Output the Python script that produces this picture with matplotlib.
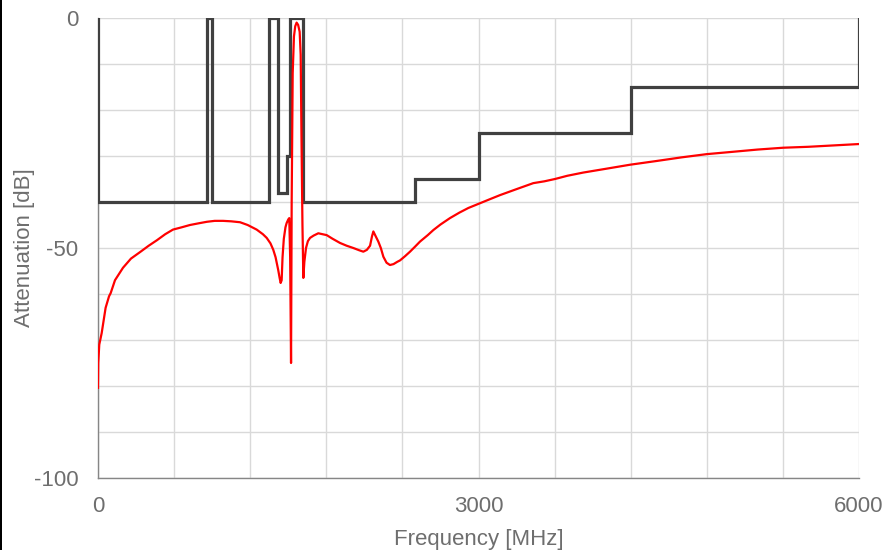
import matplotlib
matplotlib.use("Agg")
import matplotlib.pyplot as plt
from matplotlib.patches import Rectangle

plt.rcParams['font.family'] = ['Liberation Sans', 'DejaVu Sans']
plt.rcParams['axes.unicode_minus'] = False

# Mask (limit line) step definition: segment start/end frequencies and level
mask_freq = [0, 0, 860, 860, 896, 896, 1350, 1350, 1420, 1420, 1487, 1487, 1514, 1514,
             1620, 1620, 2500, 2500, 3000, 3000, 4200, 4200, 6000, 6000]
mask_db = [0, -40, -40, 0, 0, -40, -40, 0, 0, -38, -38, -30, -30, 0,
           0, -40, -40, -35, -35, -25, -25, -15, -15, 0]

# Measured filter response
freq = [0, 2, 10, 29, 60, 87, 100, 134, 197, 260, 331, 400, 465, 530, 591, 660, 725, 800,
        859, 920, 986, 1050, 1120, 1180, 1251, 1300, 1330, 1360, 1382, 1400, 1421, 1432,
        1440, 1448, 1455, 1465, 1478, 1487, 1500, 1508, 1515, 1522, 1527, 1535, 1545, 1555,
        1566, 1578, 1590, 1598, 1604, 1612, 1619, 1627, 1640, 1655, 1672, 1700, 1737, 1770,
        1803, 1850, 1908, 1960, 2013, 2060, 2092, 2120, 2145, 2160, 2171, 2185, 2210, 2230,
        2250, 2275, 2302, 2330, 2360, 2381, 2420, 2460, 2500, 2539, 2600, 2644, 2700, 2775,
        2850, 2920, 3000, 3080, 3170, 3300, 3432, 3520, 3603, 3700, 3826, 4000, 4194, 4400,
        4600, 4798, 5000, 5200, 5403, 5600, 5800, 6000]
atten = [-80.4, -75, -71, -68.5, -63, -60.5, -59.8, -57, -54.3, -52.3, -50.9, -49.5, -48.3,
         -47, -46, -45.5, -45, -44.6, -44.3, -44.1, -44.1, -44.2, -44.4, -45, -46, -47,
         -47.8, -49, -50.4, -52, -54.8, -56.5, -57.6, -57, -52, -48, -45.5, -44.6, -43.8,
         -43.5, -52, -75, -40, -12, -4, -1.8, -1.0, -1.5, -3, -8, -25, -45, -56.5, -53,
         -50, -48.5, -47.8, -47.3, -46.8, -47, -47.2, -48, -48.9, -49.5, -50.0, -50.5,
         -50.8, -50.4, -49.5, -47.5, -46.4, -47.2, -48.6, -50, -51.9, -53.2, -53.7, -53.5,
         -53, -52.7, -51.8, -50.8, -49.7, -48.6, -47.2, -46.1, -44.9, -43.5, -42.3, -41.3,
         -40.4, -39.5, -38.5, -37.2, -35.9, -35.5, -35.0, -34.3, -33.6, -32.8, -31.9, -31.1,
         -30.3, -29.6, -29.1, -28.6, -28.2, -28.0, -27.7, -27.4]

x_ticks = [0, 3000, 6000]
y_ticks = [-100, -50, 0]

W, H = 885, 550
fig = plt.figure(figsize=(W / 100, H / 100), dpi=100)
ax = fig.add_axes([98 / W, 1 - 478 / H, (859 - 98) / W, (478 - 18) / H])

ax.plot(mask_freq, mask_db, color='#404040', lw=2.3, solid_joinstyle='miter', zorder=3)
ax.plot(freq, atten, color='#ff0000', lw=1.6, zorder=4)

ax.set_xlim(0, 6000)
ax.set_ylim(-100, 0)
ax.set_xticks(x_ticks)
ax.set_yticks(y_ticks)
ax.set_xticks(range(0, 6001, 600), minor=True)
ax.set_yticks(range(-100, 1, 10), minor=True)
ax.grid(True, which='both', color='#d9d9d9', lw=1.0, zorder=0)
ax.set_axisbelow(True)

for s in ['top', 'right']:
    ax.spines[s].set_visible(False)
for s in ['left', 'bottom']:
    ax.spines[s].set_color('#868686')
    ax.spines[s].set_linewidth(1.0)

text_color = '#6e6e6e'
ax.tick_params(which='both', length=0, labelsize=16, labelcolor=text_color)
ax.tick_params(axis='x', pad=13)
ax.tick_params(axis='y', pad=14)

ax.set_xlabel('Frequency [MHz]', fontsize=16, color=text_color)
ax.set_ylabel('Attenuation [dB]', fontsize=16, color=text_color)
ax.xaxis.label.set_va('center')
ax.yaxis.label.set_va('center')
ax.xaxis.set_label_coords(0.5, (478 - 540) / 460)
ax.yaxis.set_label_coords((25 - 98) / 761, 0.5)

fig.patches.append(Rectangle((0, 0), 2 / W, 1, transform=fig.transFigure,
                             facecolor='black', edgecolor='none'))

fig.savefig('out.png', dpi=100)
